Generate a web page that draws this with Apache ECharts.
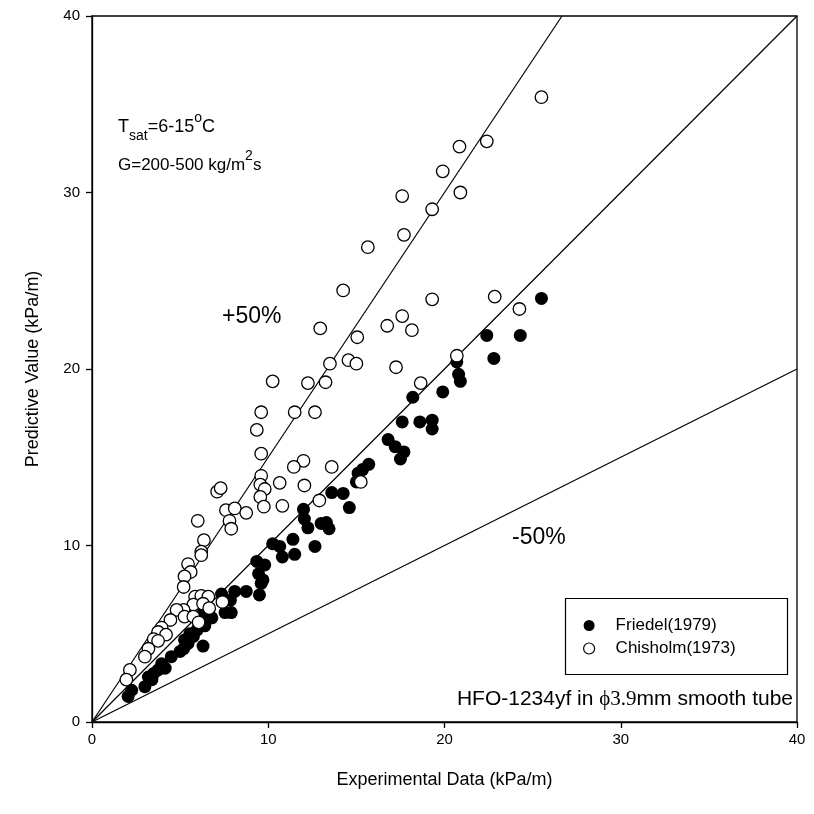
<!DOCTYPE html>
<html>
<head>
<meta charset="utf-8">
<script src="https://cdn.jsdelivr.net/npm/echarts@6/dist/echarts.min.js"></script>
<style>html,body{margin:0;padding:0;background:#fff}#c{width:814px;height:814px}</style>
</head>
<body>
<div id="c"></div>
<script>
var xTicks = [0, 10, 20, 30, 40];
var yTicks = [0, 10, 20, 30, 40];
var friedel = [
[25.5,24.0],[22.4,21.9],[24.3,21.9],[22.8,20.6],[20.7,20.4],[20.8,19.7],[20.9,19.3],[19.9,18.7],
[18.2,18.4],[17.6,17.0],[18.6,17.0],[19.3,17.1],[19.3,16.6],[16.8,16.0],[17.2,15.6],[17.7,15.3],
[17.5,14.9],[15.7,14.6],[15.35,14.3],[15.1,14.1],[15.0,13.6],[13.6,13.0],[14.25,12.95],[14.6,12.15],
[12.0,12.05],[12.05,11.5],[12.25,11.0],[13.0,11.25],[13.3,11.3],[13.45,10.95],[11.4,10.35],[10.25,10.1],
[10.65,9.95],[12.65,9.95],[10.8,9.35],[11.5,9.5],[9.35,9.1],[9.8,8.9],
[9.45,8.4],[9.7,8.05],[9.6,7.85],[8.75,7.4],[9.5,7.2],[8.1,7.4],[7.35,7.25],[7.85,6.9],[7.55,6.2],
[7.9,6.2],[6.3,6.15],[6.6,5.85],[6.4,5.45],[6.8,5.9],[5.55,5.0],[5.95,5.2],[5.75,4.85],[5.25,4.65],[5.45,4.45],
[6.3,4.3],[5.2,4.15],[5.0,4.0],[4.5,3.7],[3.95,3.3],[4.15,3.05],[3.75,2.95],[3.5,2.75],[3.2,2.55],
[3.4,2.4],[3.0,2.0],[2.25,1.8],[2.05,1.45]
];
var chisholm = [
[25.5,35.4],[22.4,32.9],[20.85,32.6],[19.9,31.2],[20.9,30.0],[17.6,29.8],[19.3,29.05],[17.7,27.6],
[15.65,26.9],[14.25,24.45],[22.85,24.1],[19.3,23.95],[24.25,23.4],[12.95,22.3],[16.75,22.45],[17.6,23.0],
[18.15,22.2],[15.05,21.8],[13.5,20.3],[14.55,20.5],[15.0,20.3],[17.25,20.1],[20.7,20.75],[10.25,19.3],
[12.25,19.2],[13.25,19.25],[18.65,19.2],[9.6,17.55],[11.5,17.55],[12.65,17.55],[9.35,16.55],[9.6,15.2],
[12.0,14.8],[11.45,14.45],[13.6,14.45],[9.6,13.95],[7.1,13.05],[7.3,13.25],[9.55,13.45],[9.8,13.2],
[10.65,13.55],[12.05,13.4],[15.25,13.6],[9.55,12.75],[9.75,12.2],[10.8,12.25],[12.9,12.55],[7.6,12.0],
[8.1,12.1],[8.75,11.85],[6.0,11.4],[7.8,11.4],[7.9,10.95],[6.35,10.3],[6.2,9.65],[6.2,9.45],
[5.45,8.95],[5.6,8.5],[5.25,8.25],[5.2,7.65],[5.85,7.1],[6.2,7.15],[6.6,7.1],[5.75,6.65],[6.3,6.7],
[6.65,6.45],[5.2,6.35],[4.8,6.35],[5.25,5.97],[5.75,5.97],[6.05,5.65],[7.4,6.8],[4.45,5.78],[3.95,5.35],
[3.75,5.1],[4.2,4.95],[3.5,4.7],[3.75,4.6],[3.2,4.15],[3.0,3.7],[2.15,2.95],[1.95,2.4]
];
var linePlus50 = [[0,0],[26.667,40]];
var lineEqual = [[0,0],[40,40]];
var lineMinus50 = [[0,0],[40,20]];
var seriesNames = ['Friedel(1979)', 'Chisholm(1973)'];

var FONT = 'Liberation Sans, Arial, sans-serif';
var chart = echarts.init(document.getElementById('c'), null, {renderer:'canvas'});
function refLine(d){
  return {type:'line', data:d, showSymbol:false, symbol:'none', silent:true, z:1,
    lineStyle:{color:'#000', width:1.2}, animation:false};
}
chart.setOption({
  animation:false,
  backgroundColor:'#fff',
  grid:{left:92, right:17, top:16, bottom:92, show:true, borderColor:'#000', borderWidth:1.3, backgroundColor:'transparent'},
  xAxis:{type:'value', min:0, max:40, interval:10,
    name:'Experimental Data (kPa/m)', nameLocation:'middle', nameGap:49,
    nameTextStyle:{fontFamily:FONT, fontSize:18, color:'#000'},
    axisLine:{show:true, onZero:false, lineStyle:{color:'#000', width:1.3}},
    axisTick:{show:true, inside:false, length:6, lineStyle:{color:'#000', width:1.3}},
    axisLabel:{fontFamily:FONT, fontSize:15, color:'#000', margin:10},
    splitLine:{show:false}},
  yAxis:{type:'value', min:0, max:40, interval:10,
    name:'Predictive Value (kPa/m)', nameLocation:'middle', nameGap:50,
    nameTextStyle:{fontFamily:FONT, fontSize:18, color:'#000'},
    axisLine:{show:true, onZero:false, lineStyle:{color:'#000', width:1.3}},
    axisTick:{show:true, inside:false, length:6, lineStyle:{color:'#000', width:1.3}},
    axisLabel:{fontFamily:FONT, fontSize:15, color:'#000', margin:12},
    splitLine:{show:false}},
  legend:{show:true, orient:'vertical', left:578, top:612, itemWidth:11, itemHeight:11, itemGap:6,
    textStyle:{fontFamily:FONT, fontSize:17, color:'#000', padding:[0,0,0,16]},
    data:[
      {name:seriesNames[0], icon:'circle', itemStyle:{color:'#000', opacity:1, borderWidth:0}},
      {name:seriesNames[1], icon:'circle', itemStyle:{color:'#fff', opacity:1, borderColor:'#000', borderWidth:1.2}}
    ]},
  graphic:[
    {type:'rect', left:563, top:596, shape:{width:222, height:76}, style:{fill:'none', stroke:'#000', lineWidth:1.2}, z:0},
    {type:'text', left:118, top:111, style:{
      text:'{m|T}{sub|sat}{m|=6-15}{sup|o}{m|C}', rich:{
        m:{fontFamily:FONT, fontSize:18, color:'#000', lineHeight:32},
        sub:{fontFamily:FONT, fontSize:14, color:'#000', lineHeight:18, verticalAlign:'bottom'},
        sup:{fontFamily:FONT, fontSize:14, color:'#000', lineHeight:14, verticalAlign:'top'}
      }}},
    {type:'text', left:118, top:149, style:{
      text:'{m|G=200-500 kg/m}{sup|2}{m|s}', rich:{
        m:{fontFamily:FONT, fontSize:17, color:'#000', lineHeight:32},
        sup:{fontFamily:FONT, fontSize:14, color:'#000', lineHeight:16, verticalAlign:'top'}
      }}},
    {type:'text', left:222, top:305, style:{text:'+50%', fontFamily:FONT, fontSize:23, fill:'#000'}},
    {type:'text', left:512, top:526, style:{text:'-50%', fontFamily:FONT, fontSize:23, fill:'#000'}},
    {type:'text', right:21, top:689, style:{
      text:'{a|HFO-1234yf in }{b|ϕ3.9}{a|mm smooth tube}', rich:{
        a:{fontFamily:FONT, fontSize:21, color:'#000'},
        b:{fontFamily:'Liberation Serif, DejaVu Serif, serif', fontSize:21, color:'#000'}
      }}}
  ],
  series:[
    refLine(linePlus50), refLine(lineEqual), refLine(lineMinus50),
    {name:seriesNames[0], type:'scatter', data:friedel, symbol:'circle', symbolSize:13, z:3,
      itemStyle:{color:'#000', opacity:1, borderWidth:0}},
    {name:seriesNames[1], type:'scatter', data:chisholm, symbol:'circle', symbolSize:12.5, z:4,
      itemStyle:{color:'#fff', opacity:1, borderColor:'#000', borderWidth:1.3}}
  ]
});
</script>
</body>
</html>
